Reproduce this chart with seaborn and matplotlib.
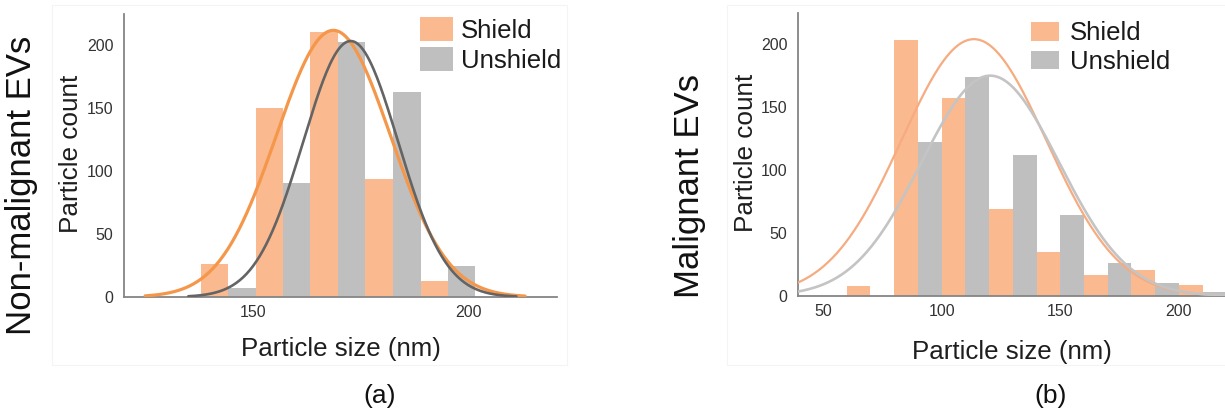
import numpy as np
import pandas as pd
import matplotlib
matplotlib.use("Agg")
import matplotlib.pyplot as plt
from matplotlib.patches import Rectangle
import seaborn as sns

# ---------------- data ----------------
groups = ["Shield", "Unshield"]

# Panel (a) Non-malignant EVs
a_bin_edges = [137.9, 150.6, 163.3, 176.0, 188.8, 201.5]
a_shield_counts = [26, 150, 211, 94, 13]
a_unshield_counts = [7, 91, 203, 163, 25]
# fitted normal curves: (mean, sd, peak, x_from, x_to)
a_shield_fit = (168.6, 13.2, 212, 125, 213)
a_unshield_fit = (172.6, 11.0, 203.5, 135, 211)
a_xticks = [150, 200]

# Panel (b) Malignant EVs
b_bin_edges = [60, 80, 100, 120, 140, 160, 180, 200, 220]
b_shield_counts = [8, 203, 157, 69, 35, 17, 21, 9]
b_unshield_counts = [0, 122, 174, 112, 64, 26, 10, 3]
b_shield_fit = (113.6, 30.5, 204, 39.5, 220)
b_unshield_fit = (120.5, 29.0, 175, 39.5, 220)
b_xticks = [50, 100, 150, 200]

yticks = [0, 50, 100, 150, 200]

# ---------------- style ----------------
sns.set_theme(style="white")
plt.rcParams["font.family"] = ["Liberation Sans", "DejaVu Sans"]

bar_pal = {"Shield": "#FBB98F", "Unshield": "#BFBFBF"}
W, H = 1225, 412
fig = plt.figure(figsize=(W / 100, H / 100), dpi=100)

# faint panel frames
fig.add_artist(Rectangle((52 / W, 1 - 365 / H), (567 - 52) / W, (365 - 5) / H,
                         transform=fig.transFigure, fill=False, ec="#F4F4F4", lw=0.8))
fig.add_artist(Rectangle((727 / W, 1 - 365 / H), (1230 - 727) / W, (365 - 5) / H,
                         transform=fig.transFigure, fill=False, ec="#F4F4F4", lw=0.8))

ax1 = fig.add_axes([124 / W, 1 - 297 / H, 433 / W, 283 / H])
ax2 = fig.add_axes([798 / W, 1 - 296 / H, 427 / W, 283.3 / H])


def hist_df(edges, s_counts, u_counts):
    centers = [(edges[i] + edges[i + 1]) / 2 for i in range(len(edges) - 1)]
    return pd.DataFrame({
        "size": centers + centers,
        "count": list(s_counts) + list(u_counts),
        "group": ["Shield"] * len(centers) + ["Unshield"] * len(centers),
    })


def fit_df(params, n=300):
    mu, sd, peak, x0, x1 = params
    x = np.linspace(x0, x1, n)
    return pd.DataFrame({"x": x, "y": peak * np.exp(-((x - mu) ** 2) / (2 * sd ** 2))})


def draw(ax, edges, s_counts, u_counts, s_fit, u_fit, line_cols, line_ws,
         xlim, xticks, leg_anchor, leg_hl, leg_hh, leg_ls, leg_tp, xlab_y, ylab_x):
    df = hist_df(edges, s_counts, u_counts)
    sns.histplot(data=df, x="size", weights="count", hue="group", hue_order=groups,
                 bins=edges, multiple="dodge", shrink=1, palette=bar_pal, alpha=1,
                 linewidth=0, ax=ax, legend=True)
    for params, c, lw in [(s_fit, line_cols[0], line_ws[0]), (u_fit, line_cols[1], line_ws[1])]:
        d = fit_df(params)
        sns.lineplot(data=d, x="x", y="y", color=c, lw=lw, ax=ax, zorder=3)
    ax.set_xlim(*xlim)
    ax.set_ylim(0, 225)
    ax.set_xticks(xticks)
    ax.set_yticks(yticks)
    sns.despine(ax=ax)
    for s in ["left", "bottom"]:
        ax.spines[s].set_color("#858585")
        ax.spines[s].set_linewidth(1.3)
    ax.tick_params(axis="both", length=3.5, width=1, color="#858585",
                   labelsize=11.5, labelcolor="#333333", direction="out")
    ax.tick_params(axis="y", pad=4.0)
    ax.tick_params(axis="x", pad=2.5)
    ax.set_xlabel("Particle size (nm)", fontsize=18.6, color="#1e1e1e", va="center")
    ax.xaxis.set_label_coords(0.5, xlab_y)
    ax.set_ylabel("Particle count", fontsize=18.8, color="#1e1e1e", va="center")
    ax.yaxis.set_label_coords(ylab_x, 0.505)
    sns.move_legend(ax, "upper left", bbox_to_anchor=leg_anchor, title=None,
                    frameon=False, fontsize=18.5, handlelength=leg_hl,
                    handleheight=leg_hh, labelspacing=leg_ls, handletextpad=leg_tp,
                    borderpad=0, borderaxespad=0)
    for t in ax.get_legend().get_texts():
        t.set_color("#1a1a1a")


draw(ax1, a_bin_edges, a_shield_counts, a_unshield_counts, a_shield_fit, a_unshield_fit,
     ("#F5974A", "#646464"), (2.3, 1.9), (120.1, 220.4), a_xticks,
     (0.6836, 0.991), 1.28, 1.09, 0.17, 0.32, -0.184, -0.1224)
draw(ax2, b_bin_edges, b_shield_counts, b_unshield_counts, b_shield_fit, b_unshield_fit,
     ("#F6AB80", "#C4C4C4"), (1.6, 1.9), (39.5, 219.4), b_xticks,
     (0.546, 0.969), 1.09, 0.72, 0.18, 0.42, -0.197, -0.1215)

fig.text(22 / W, 1 - 185 / H, "Non-malignant EVs", rotation=90, fontsize=25,
         ha="center", va="center", color="#111111")
fig.text(690 / W, 1 - 186 / H, "Malignant EVs", rotation=90, fontsize=25,
         ha="center", va="center", color="#111111")
fig.text(379.5 / W, 1 - 396 / H, "(a)", fontsize=19, ha="center", va="center", color="#111111")
fig.text(1051 / W, 1 - 396 / H, "(b)", fontsize=19, ha="center", va="center", color="#111111")

fig.savefig("out.png", dpi=100, facecolor="white")
